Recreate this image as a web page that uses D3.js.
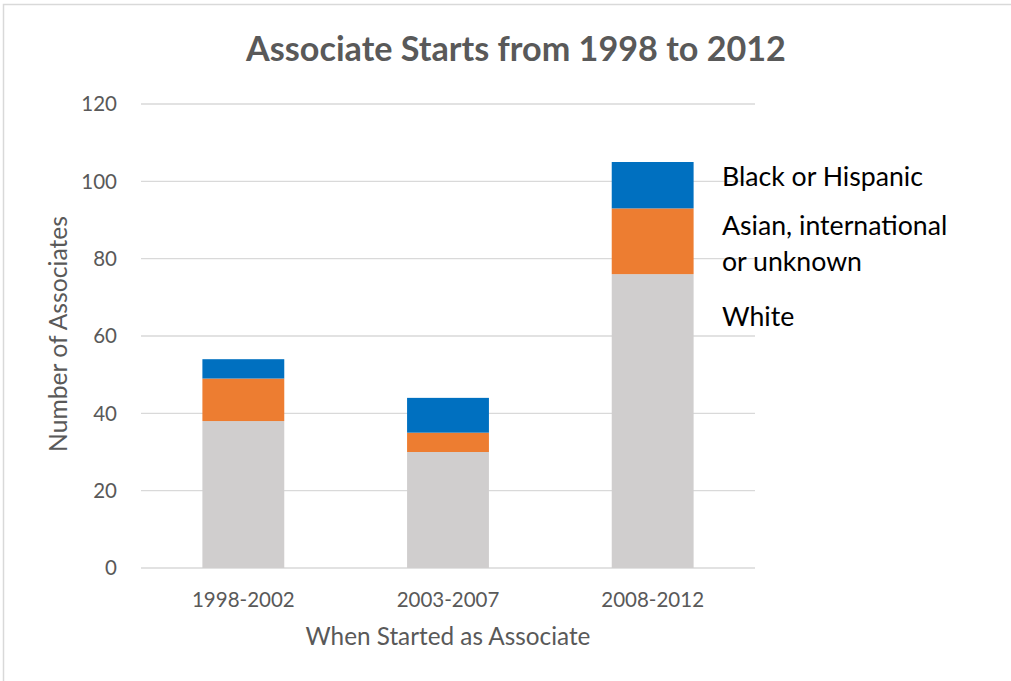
<!DOCTYPE html>
<html>
<head>
<meta charset="utf-8">
<script src="https://cdn.jsdelivr.net/npm/d3@7"></script>
<style>
  html, body { margin: 0; padding: 0; background: #fff; }
  svg { display: block; }
  text { font-family: Lato, "Open Sans", sans-serif; }
</style>
</head>
<body>
<div id="chart"></div>
<script>
// Associate starts by period, stacked by group
const periods = ["1998-2002", "2003-2007", "2008-2012"];
const white = [38, 30, 76];
const asianIntlUnknown = [11, 5, 17];
const blackHispanic = [5, 9, 12];
const seriesNames = ["White", "Asian, international or unknown", "Black or Hispanic"];
const yTicks = [0, 20, 40, 60, 80, 100, 120];

const W = 1011, H = 681;
const margin = { left: 141, right: 256, top: 104, bottom: 113 };
const colors = { "White": "#D0CECE", "Asian, international or unknown": "#ED7D31", "Black or Hispanic": "#0070C0" };

const svg = d3.select("#chart").append("svg").attr("width", W).attr("height", H);

// outer chart border
svg.append("rect").attr("x", 3.5).attr("y", 4.5).attr("width", W + 10).attr("height", H + 10)
  .attr("fill", "#fff").attr("stroke", "#d9d9d9").attr("stroke-width", 1.5);

const x = d3.scaleBand().domain(periods).range([margin.left, W - margin.right]).paddingInner(0.6).paddingOuter(0.3);
const y = d3.scaleLinear().domain([0, 120]).range([H - margin.bottom, margin.top]);

// shrink or grow a text element's font so it spans the given width
function fit(sel, width) {
  sel.each(function () {
    const t = d3.select(this);
    t.style("font-size", "100px");
    const w = this.getComputedTextLength();
    t.style("font-size", (100 * width / w).toFixed(2) + "px");
  });
  return sel;
}

// horizontal gridlines
svg.append("g").selectAll("line").data(yTicks).join("line")
  .attr("x1", margin.left).attr("x2", W - margin.right)
  .attr("y1", d => y(d)).attr("y2", d => y(d))
  .attr("stroke", "#d9d9d9").attr("stroke-width", 1.3);

// stacked bars
const rows = periods.map((p, i) => ({
  period: p,
  "White": white[i],
  "Asian, international or unknown": asianIntlUnknown[i],
  "Black or Hispanic": blackHispanic[i]
}));
const stacked = d3.stack().keys(seriesNames)(rows);
svg.append("g").selectAll("g").data(stacked).join("g")
  .attr("fill", d => colors[d.key])
  .selectAll("rect").data(d => d).join("rect")
  .attr("x", d => x(d.data.period))
  .attr("width", x.bandwidth())
  .attr("y", d => y(d[1]))
  .attr("height", d => y(d[0]) - y(d[1]));

// y tick labels
const yAxis = svg.append("g").attr("transform", `translate(${margin.left - 24},0)`)
  .call(d3.axisLeft(y).tickValues(yTicks).tickSize(0).tickPadding(0));
yAxis.select(".domain").remove();
yAxis.selectAll("text").attr("fill", "#595959").style("font-size", "20.5px")
  .attr("dy", "0.34em").style("font-family", "Lato, sans-serif");

// x tick labels
const xAxis = svg.append("g").attr("transform", `translate(0,${H - margin.bottom})`)
  .call(d3.axisBottom(x).tickSize(0).tickPadding(0));
xAxis.select(".domain").remove();
xAxis.selectAll("text").attr("fill", "#595959").style("font-size", "20.5px")
  .attr("dy", null).attr("y", 39).style("font-family", "Lato, sans-serif");

// title
fit(svg.append("text").attr("x", 516).attr("y", 61).attr("text-anchor", "middle")
  .attr("fill", "#595959").attr("font-weight", "bold")
  .text("Associate Starts from 1998 to 2012"), 540);

// axis titles
fit(svg.append("text").attr("x", 448).attr("y", 645).attr("text-anchor", "middle")
  .attr("fill", "#595959").text("When Started as Associate"), 285);
fit(svg.append("text").attr("transform", "translate(67,334) rotate(-90)").attr("text-anchor", "middle")
  .attr("fill", "#595959").text("Number of Associates"), 236);

// series labels at the right of the last bar
const legendLines = [
  { text: "Black or Hispanic", y: 186 },
  { text: "Asian, international", y: 235 },
  { text: "or unknown", y: 271 },
  { text: "White", y: 326 }
];
const legend = svg.append("g").selectAll("text").data(legendLines).join("text")
  .attr("x", 722).attr("y", d => d.y).attr("fill", "#000").text(d => d.text);
fit(legend.filter((d, i) => i === 0), 201);
const legendSize = legend.filter((d, i) => i === 0).style("font-size");
legend.style("font-size", legendSize);
</script>
</body>
</html>
